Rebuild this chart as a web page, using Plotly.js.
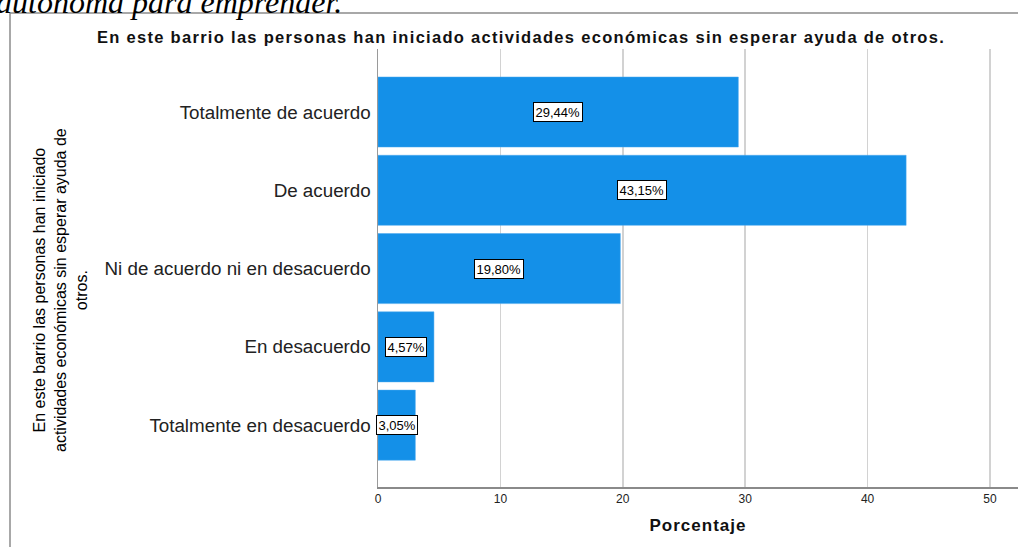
<!DOCTYPE html>
<html>
<head>
<meta charset="utf-8">
<script src="https://cdn.plot.ly/plotly-3.0.1.min.js"></script>
<style>
html,body{margin:0;padding:0;background:#fff;}
#chart{width:1018px;height:547px;}
#chart .gtitle{letter-spacing:1.3px;}
#chart .xtitle{letter-spacing:1px;}
</style>
</head>
<body>
<div id="chart"></div>
<script>
const categories = ["Totalmente de acuerdo", "De acuerdo", "Ni de acuerdo ni en desacuerdo", "En desacuerdo", "Totalmente en desacuerdo"];
const percentages = [29.44, 43.15, 19.80, 4.57, 3.05];
const valueLabels = ["29,44%", "43,15%", "19,80%", "4,57%", "3,05%"];
const xTickValues = [0, 10, 20, 30, 40, 50];
const chartTitle = "En este barrio las personas han iniciado actividades económicas sin esperar ayuda de otros.";
const yTitle = "En este barrio las personas han iniciado<br>actividades económicas sin esperar ayuda de<br>otros.";
const xTitle = "Porcentaje";
const topText = "autónoma para emprender.";

const trace = {
  type: "bar",
  orientation: "h",
  x: percentages,
  y: categories,
  marker: {color: "#1490e8", line: {color: "#4aa8ee", width: 0.5}},
  hoverinfo: "none"
};

const labelAnnotations = percentages.map((v, i) => ({
  x: v / 2, y: categories[i], xref: "x", yref: "y",
  text: valueLabels[i], showarrow: false,
  font: {family: "Liberation Sans, Arial, sans-serif", size: 13, color: "#000"},
  bgcolor: "#fff", bordercolor: "#000", borderwidth: 1, borderpad: 1.5
}));

const layout = {
  width: 1018, height: 547,
  margin: {l: 378, r: 0, t: 49, b: 60},
  paper_bgcolor: "#fff", plot_bgcolor: "#fff",
  showlegend: false,
  bargap: 0.105,
  title: {
    text: "<b>" + chartTitle + "</b>",
    xref: "container", yref: "container",
    x: 521 / 1018, y: 1 - 37 / 547, xanchor: "center", yanchor: "middle",
    font: {family: "Liberation Sans, Arial, sans-serif", size: 16.5, color: "#111"}
  },
  xaxis: {
    range: [0, 52.29],
    tickvals: xTickValues,
    ticktext: xTickValues.map(String),
    showgrid: true, gridcolor: "#d2d2d2", gridwidth: 1.5,
    zeroline: false,
    showline: true, linecolor: "#8a8a8a", linewidth: 1.5,
    ticks: "",
    tickfont: {family: "Liberation Sans, Arial, sans-serif", size: 12, color: "#222"},
    title: {text: xTitle, font: {family: "Liberation Sans, Arial, sans-serif", size: 17, color: "#111", weight: "bold"}, standoff: 14},
    fixedrange: true
  },
  yaxis: {
    type: "category",
    categoryorder: "array", categoryarray: categories,
    range: [4.79, -0.805],
    showgrid: false, zeroline: false,
    showline: true, linecolor: "#9a9a9a", linewidth: 1.5,
    ticks: "", ticklabelstandoff: 2,
    tickfont: {family: "Liberation Sans, Arial, sans-serif", size: 18.8, color: "#222"},
    fixedrange: true
  },
  shapes: [{
    type: "rect", xref: "paper", yref: "paper",
    x0: -0.575, x1: 1.02, y0: -0.2, y1: 1.0822,
    line: {color: "#8c8c8c", width: 1.5}, fillcolor: "rgba(0,0,0,0)", layer: "below"
  }],
  annotations: labelAnnotations.concat([
    {
      xref: "paper", yref: "paper", x: (60 - 378) / 640, y: (487 - 290) / 438,
      xanchor: "center", yanchor: "middle", showarrow: false, textangle: -90,
      text: yTitle,
      font: {family: "Liberation Sans Narrow, Arial Narrow, Liberation Sans, sans-serif", size: 16, color: "#000"}
    },
    {
      xref: "paper", yref: "paper", x: (-6 - 378) / 640, y: (487 - 22) / 438,
      xanchor: "left", yanchor: "bottom", showarrow: false,
      text: "<i>" + topText + "</i>",
      font: {family: "Liberation Serif, Times New Roman, serif", size: 32, color: "#000"}
    }
  ])
};

Plotly.newPlot("chart", [trace], layout, {displayModeBar: false, staticPlot: true});
</script>
</body>
</html>
